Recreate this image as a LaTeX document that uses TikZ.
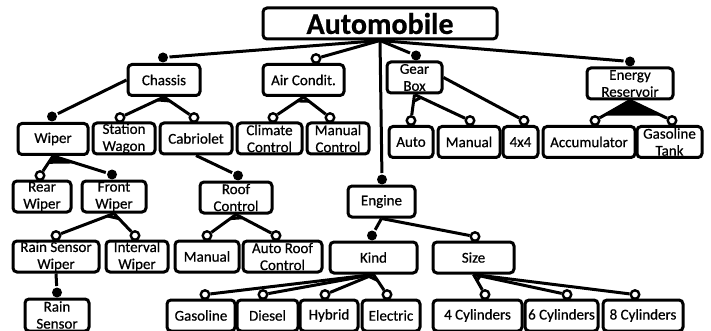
\documentclass[tikz,border=0pt]{standalone}
\usepackage{fontspec}
\setmainfont[FakeBold=0.6]{Carlito}
\usetikzlibrary{calc}

\begin{document}
\begin{tikzpicture}[x=1pt, y=-1pt, line width=3pt,
  feat/.style = {draw, rectangle, rounded corners=4pt, inner sep=0pt, align=center, minimum height=31pt, font=\fontsize{15}{17}\selectfont},
  mand/.style = {circle, fill, inner sep=0pt, minimum size=10pt, anchor=south},
  opt/.style = {circle, draw, fill=white, line width=2.4pt, inner sep=0pt, minimum size=8.5pt, anchor=south}]

    \useasboundingbox (0,0) rectangle (711,331);

    % root and first level
    \node[feat, minimum width=234pt, font=\fontsize{30}{30}\selectfont\bfseries] (auto) at (380,23.5) {Automobile};
    \node[feat, minimum width=72pt] (chassis) at (164,80) {Chassis};
    \node[feat, minimum width=81pt] (air) at (303.5,80) {Air Condit.};
    \node[feat, minimum width=55pt] (gear) at (414.5,77.5) {Gear\\Box};
    \node[feat, minimum width=86pt] (energy) at (630,83.5) {Energy\\Reservoir};
    \node[feat, minimum width=67pt] (engine) at (381.5,201.5) {Engine};

    % second level
    \node[feat, minimum width=70pt] (wiper) at (53,139) {Wiper};
    \node[feat, minimum width=62pt] (station) at (124,138.5) {Station\\Wagon};
    \node[feat, minimum width=72pt] (cabrio) at (196,138.5) {Cabriolet};
    \node[feat, minimum width=65pt] (climate) at (269.5,138.5) {Climate\\Control};
    \node[feat, minimum width=62pt] (manctl) at (338,138.5) {Manual\\Control};
    \node[feat, minimum width=44pt] (autogear) at (411,142) {Auto};
    \node[feat, minimum width=62pt] (mangear) at (469,142) {Manual};
    \node[feat, minimum width=35pt] (fourx4) at (520.5,142) {4x4};
    \node[feat, minimum width=92pt] (accu) at (589,142) {Accumulator};
    \node[feat, minimum width=65pt] (gtank) at (669.5,142) {Gasoline\\Tank};

    % third level
    \node[feat, minimum width=58pt] (rear) at (42,196.5) {Rear\\Wiper};
    \node[feat, minimum width=64pt] (front) at (114,196.5) {Front\\Wiper};
    \node[feat, minimum width=72pt] (roof) at (236,197.5) {Roof\\Control};
    \node[feat, minimum width=86pt] (rainsw) at (56,256.5) {Rain Sensor\\Wiper};
    \node[feat, minimum width=62pt] (interval) at (137,256.5) {Interval\\Wiper};
    \node[feat, minimum width=64pt] (manroof) at (207,256.5) {Manual};
    \node[feat, minimum width=79pt] (autoroof) at (282.5,256.5) {Auto Roof\\Control};
    \node[feat, minimum width=87pt] (kind) at (373.5,257.5) {Kind};
    \node[feat, minimum width=81pt] (size) at (473.5,257.5) {Size};

    % bottom row
    \node[feat, minimum width=64pt, minimum height=32pt] (rain) at (57,315) {Rain\\Sensor};
    \node[feat, minimum width=68pt] (gasoline) at (201,315.5) {Gasoline};
    \node[feat, minimum width=61pt] (diesel) at (267.5,315.5) {Diesel};
    \node[feat, minimum width=58pt] (hybrid) at (329,315.5) {Hybrid};
    \node[feat, minimum width=58pt] (electric) at (391,315.5) {Electric};
    \node[feat, minimum width=89pt] (cyl4) at (477.5,315.5) {4 Cylinders};
    \node[feat, minimum width=73pt] (cyl6) at (561.5,315.5) {6 Cylinders};
    \node[feat, minimum width=80pt] (cyl8) at (643,315.5) {8 Cylinders};

    % mandatory / optional marks
    \node[mand] (m-chassis) at (163,64) {};
    \node[opt] (o-air) at (316,64) {};
    \node[mand] (m-gear) at (416,62) {};
    \node[mand] (m-energy) at (630,68) {};
    \node[mand] (m-engine) at (382,186) {};
    \node[mand] (m-wiper) at (52,123) {};
    \node[opt] (o-station) at (120,123) {};
    \node[opt] (o-cabrio) at (194,123) {};
    \node[opt] (o-climate) at (273,123) {};
    \node[opt] (o-manctl) at (330,123) {};
    \node[opt] (o-autogear) at (411,126) {};
    \node[opt] (o-mangear) at (470,126) {};
    \node[opt] (o-fourx4) at (524,126) {};
    \node[opt] (o-accu) at (595,126) {};
    \node[opt] (o-gtank) at (672,126) {};
    \node[opt] (o-rear) at (40,181) {};
    \node[mand] (m-front) at (112,181) {};
    \node[mand] (m-roof) at (238,182) {};
    \node[opt] (o-rainsw) at (56,241) {};
    \node[opt] (o-interval) at (135,241) {};
    \node[opt] (o-manroof) at (207,241) {};
    \node[opt] (o-autoroof) at (276,241) {};
    \node[mand] (m-kind) at (372,242) {};
    \node[opt] (o-size) at (475,242) {};
    \node[mand] (m-rain) at (57,299) {};
    \node[opt] (o-gasoline) at (205,300) {};
    \node[opt] (o-diesel) at (263,300) {};
    \node[opt] (o-hybrid) at (325,300) {};
    \node[opt] (o-electric) at (387,300) {};
    \node[opt] (o-cyl4) at (485,300) {};
    \node[opt] (o-cyl6) at (567,300) {};
    \node[opt] (o-cyl8) at (635,300) {};

    \draw (auto.south) -- (m-chassis);
    \draw (auto.south) -- (o-air);
    \draw (auto.south) -- (m-gear);
    \draw (auto.south) -- (m-energy);
    \draw (auto.south) -- (m-engine);

    \draw (chassis.west) -- (m-wiper);
    \draw (chassis.south) -- (o-station);
    \draw (chassis.south) -- (o-cabrio);
    \draw ($(chassis.south)!7pt!(o-station)$) -- ($(chassis.south)!7pt!(o-cabrio)$);

    \draw (air.south) -- (o-climate);
    \draw (air.south) -- (o-manctl);
    \draw ($(air.south)!7pt!(o-climate)$) -- ($(air.south)!7pt!(o-manctl)$);

    \draw (gear.south) -- (o-autogear);
    \draw (gear.south) -- (o-mangear);
    \draw (gear.east) -- (o-fourx4);
    \draw ($(gear.south)!7pt!(o-autogear)$) -- ($(gear.south)!7pt!(o-mangear)$);

    \draw (energy.south) -- (o-accu);
    \draw (energy.south) -- (o-gtank);
    \fill (energy.south) -- ($(energy.south)!0.75!(o-accu)$) -- ($(energy.south)!0.75!(o-gtank)$) -- cycle;

    \draw (wiper.south) -- (o-rear);
    \draw (wiper.south) -- (m-front);
    \fill (wiper.south) -- ($(wiper.south)!0.4!(o-rear)$) -- ($(wiper.south)!0.4!(m-front)$) -- cycle;

    \draw (cabrio.south) -- (m-roof);

    \draw (front.south) -- (o-rainsw);
    \draw (front.south) -- (o-interval);
    \draw ($(front.south)!7pt!(o-rainsw)$) -- ($(front.south)!7pt!(o-interval)$);

    \draw (roof.south) -- (o-manroof);
    \draw (roof.south) -- (o-autoroof);
    \draw ($(roof.south)!7pt!(o-manroof)$) -- ($(roof.south)!7pt!(o-autoroof)$);

    \draw (rainsw.south) -- (m-rain);

    \draw (engine.south) -- (m-kind);
    \draw (engine.south) -- (o-size);

    \draw (kind.south) -- (o-gasoline);
    \draw (kind.south) -- (o-diesel);
    \draw (kind.south) -- (o-hybrid);
    \draw (kind.south) -- (o-electric);
    \draw ($(kind.south)!7pt!(o-gasoline)$) -- ($(kind.south)!7pt!(o-electric)$);

    \draw (size.south) -- (o-cyl4);
    \draw (size.south) -- (o-cyl6);
    \draw (size.south) -- (o-cyl8);
    \draw ($(size.south)!7pt!(o-cyl4)$) -- ($(size.south)!7pt!(o-cyl8)$);

\end{tikzpicture}
\end{document}
